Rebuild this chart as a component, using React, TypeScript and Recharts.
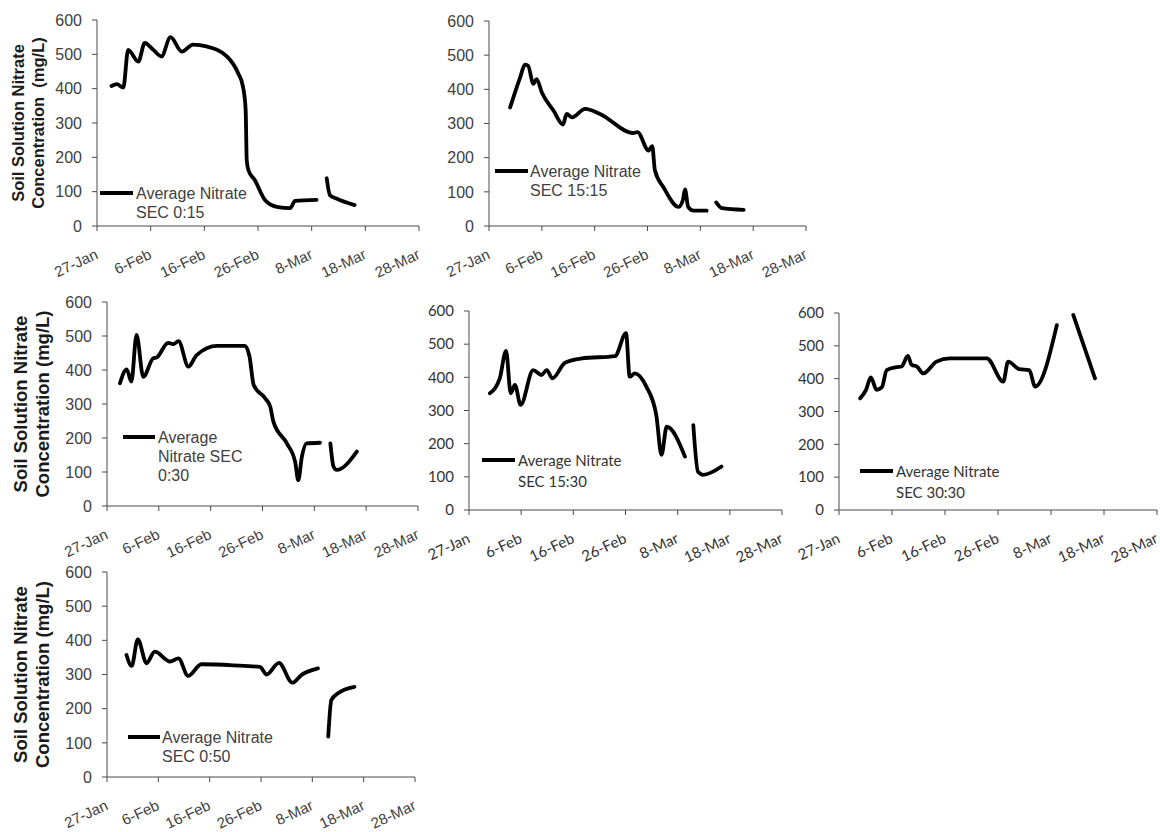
import React from 'react';
import { LineChart, Line, XAxis, YAxis, Legend } from 'recharts';

// x axis is days counted from 27-Jan
const tickDays = [0, 10, 20, 30, 40, 50, 60];
const tickLabels = ['27-Jan', '6-Feb', '16-Feb', '26-Feb', '8-Mar', '18-Mar', '28-Mar'];
const nitrateTicks = [0, 100, 200, 300, 400, 500, 600];

// null splits the record where sampling stopped
const days015 = [2.7, 3.7, 4.9, 5.8, 7.7, 8.9, 10.5, 12, 13.7, 15.8, 17.9, 20.4, 24.2, 26.3, 27.2, 27.7, 27.9, 28.2, 29.4, 31.3, 33.5, 36, 36.9, 40.9, 42, 42.8, 43.4, 44.6, 48];
const nitrate015 = [408, 413, 403, 513, 479, 533, 513, 494, 550, 508, 528, 523, 494, 445, 406, 338, 192, 163, 134, 76, 56, 52, 73, 76, null, 139, 90, 80, 61];

const days1515 = [4.0, 5.9, 6.8, 7.4, 8.4, 9.0, 10.0, 12.2, 14.0, 14.7, 15.7, 18.2, 21, 27.3, 28.1, 30.2, 30.9, 31.4, 33.0, 35.9, 36.7, 37.1, 37.7, 38.7, 41.2, 42, 43, 44.1, 48.2];
const nitrate1515 = [347, 435, 472, 469, 416, 430, 391, 338, 297, 328, 318, 343, 328, 272, 275, 221, 234, 163, 114, 56, 76, 107, 56, 45, 45, null, 69, 52, 47];

const days030 = [2.5, 3.8, 4.7, 5.7, 7.0, 8.9, 9.6, 11.8, 12.8, 13.8, 15.7, 17.3, 21.2, 26.6, 27.5, 28.3, 30.5, 31.5, 32.1, 34.7, 36.3, 36.9, 37.6, 38.5, 41.1, 42, 43.1, 43.7, 44.3, 48.2];
const nitrate030 = [361, 402, 366, 503, 380, 434, 437, 480, 476, 485, 410, 444, 471, 471, 439, 356, 317, 292, 248, 184, 130, 76, 145, 184, 186, null, 184, 116, 106, 160];

const days1530 = [4.0, 5.9, 7.1, 8.0, 8.8, 9.9, 12.3, 13.9, 14.9, 16.0, 18.4, 21.6, 28.0, 30.1, 30.8, 31.8, 34.0, 35.9, 36.9, 37.9, 41.4, 42.2, 43.0, 43.9, 44.9, 48.4];
const nitrate1530 = [352, 397, 480, 352, 377, 317, 422, 407, 422, 397, 444, 457, 464, 533, 402, 412, 372, 286, 166, 251, 161, null, 256, 115, 106, 131];

const days3030 = [4.0, 5.1, 6.0, 7.1, 8.1, 9.0, 10.9, 11.8, 13.0, 13.7, 14.7, 15.9, 18.4, 20.9, 27.9, 31.0, 31.9, 34.0, 35.9, 37.0, 41.1, 42.5, 44.2, 48.3];
const nitrate3030 = [340, 366, 404, 366, 374, 426, 435, 437, 469, 442, 437, 416, 452, 462, 462, 391, 452, 429, 426, 376, 563, null, 594, 401];

const days050 = [3.8, 4.8, 6.0, 7.7, 9.3, 12.3, 13.9, 15.8, 18.4, 24.6, 29.8, 31.1, 33.5, 36.1, 37.9, 41.1, 42, 43.1, 43.7, 45.0, 48.2];
const nitrate050 = [357, 325, 403, 333, 367, 338, 347, 296, 330, 327, 322, 300, 334, 276, 299, 318, null, 118, 225, 245, 264];

const ARIAL = "'Liberation Sans', Arial, sans-serif";
const CALIBRI = "Lato, 'Open Sans', sans-serif";

type Face = { family: string; yTick: number; xTick: number; legend: number; lineH: number; color: string };
const arialFace: Face = { family: ARIAL, yTick: 16, xTick: 15, legend: 16, lineH: 19, color: '#404040' };
const calibriFace: Face = { family: CALIBRI, yTick: 15, xTick: 15, legend: 15, lineH: 21, color: '#333' };

type Panel = {
  days: number[];
  values: (number | null)[];
  legend: string[];
  plot: { x: number; y: number; w: number; h: number };
  key: { x: number; y: number; len: number; gap: number };
  title?: { lines: string[]; offsets: number[]; size: number };
  face: Face;
};

const titleTight = ['Soil Solution Nitrate', 'Concentration  (mg/L)'];
const titleLines = ['Soil Solution Nitrate', 'Concentration (mg/L)'];

const panels: Panel[] = [
  {
    days: days015, values: nitrate015, legend: ['Average Nitrate', 'SEC 0:15'],
    plot: { x: 97, y: 20, w: 322, h: 206 }, key: { x: 100, y: 193, len: 33, gap: 3 },
    title: { lines: titleTight, offsets: [79, 59], size: 16.5 }, face: arialFace,
  },
  {
    days: days1515, values: nitrate1515, legend: ['Average Nitrate', 'SEC 15:15'],
    plot: { x: 489, y: 21, w: 317, h: 205 }, key: { x: 495, y: 171, len: 33, gap: 2 },
    face: arialFace,
  },
  {
    days: days030, values: nitrate030, legend: ['Average', 'Nitrate SEC', '0:30'],
    plot: { x: 107, y: 302, w: 311, h: 204 }, key: { x: 123, y: 437, len: 32, gap: 3 },
    title: { lines: titleLines, offsets: [87, 65], size: 18.5 }, face: arialFace,
  },
  {
    days: days1530, values: nitrate1530, legend: ['Average Nitrate', 'SEC 15:30'],
    plot: { x: 469, y: 311, w: 313, h: 199 }, key: { x: 482, y: 460, len: 33, gap: 3 },
    face: calibriFace,
  },
  {
    days: days3030, values: nitrate3030, legend: ['Average Nitrate', 'SEC 30:30'],
    plot: { x: 839, y: 313, w: 318, h: 197 }, key: { x: 860, y: 471, len: 33, gap: 3 },
    face: calibriFace,
  },
  {
    days: days050, values: nitrate050, legend: ['Average Nitrate', 'SEC 0:50'],
    plot: { x: 107, y: 572, w: 308, h: 205 }, key: { x: 128, y: 737, len: 32, gap: 2 },
    title: { lines: titleLines, offsets: [87, 65], size: 18.5 }, face: arialFace,
  },
];

const AXIS = '#4a4a4a';
const TOP = 12;
const BOTTOM = 62;
const RIGHT = 14;

const DateTick = (props: any) => {
  const { x, y, payload, face } = props;
  const label = tickLabels[tickDays.indexOf(payload.value)] ?? '';
  const ax = x + 2;
  const ay = y + 25;
  return (
    <text
      x={ax}
      y={ay}
      textAnchor="end"
      transform={`rotate(-25, ${ax}, ${ay})`}
      fill={face.color}
      fontSize={face.xTick}
      fontFamily={face.family}
    >
      {label}
    </text>
  );
};

function NitratePanel({ p }: { p: Panel }) {
  const yw = p.title ? 100 : 60;
  const left = p.plot.x - yw;
  const top = p.plot.y - TOP;
  const width = yw + p.plot.w + RIGHT;
  const height = TOP + p.plot.h + BOTTOM;
  const data = p.days.map((day, i) => ({ day, nitrate: p.values[i] }));
  const f = p.face;

  const title = p.title;
  const renderTitle = () => {
    if (!title) return null;
    const cy = TOP + p.plot.h / 2;
    return (
      <g>
        {title.lines.map((line, i) => {
          const cx = yw - title.offsets[i];
          return (
            <text
              key={line}
              x={cx}
              y={cy}
              transform={`rotate(-90, ${cx}, ${cy})`}
              textAnchor="middle"
              dominantBaseline="central"
              fontFamily={ARIAL}
              fontWeight="bold"
              fontSize={title.size}
              fill="#1a1a1a"
              style={{ whiteSpace: 'pre' }}
            >
              {line}
            </text>
          );
        })}
      </g>
    );
  };

  const renderKey = () => (
    <div style={{ display: 'flex', alignItems: 'flex-start', fontFamily: f.family, fontSize: f.legend, color: f.color }}>
      <div
        style={{
          width: p.key.len,
          height: 3.5,
          background: '#000',
          marginTop: f.lineH / 2 - 1.75,
          marginRight: p.key.gap,
          flex: 'none',
        }}
      />
      <div style={{ lineHeight: `${f.lineH}px`, whiteSpace: 'nowrap' }}>
        {p.legend.map((t) => (
          <div key={t}>{t}</div>
        ))}
      </div>
    </div>
  );

  return (
    <div style={{ position: 'absolute', left, top }}>
      <LineChart width={width} height={height} data={data} margin={{ top: TOP, right: RIGHT, bottom: 0, left: 0 }}>
        <XAxis
          type="number"
          dataKey="day"
          domain={[0, 60]}
          ticks={tickDays}
          interval={0}
          height={BOTTOM}
          tickSize={5}
          stroke={AXIS}
          tickLine={{ stroke: AXIS }}
          tick={<DateTick face={f} />}
        />
        <YAxis
          type="number"
          domain={[0, 600]}
          ticks={nitrateTicks}
          interval={0}
          width={yw}
          tickSize={5}
          tickMargin={10}
          stroke={AXIS}
          tickLine={{ stroke: AXIS }}
          tick={{ fill: f.color, fontSize: f.yTick, fontFamily: f.family }}
          label={title ? renderTitle : undefined}
        />
        <Legend
          layout="horizontal"
          verticalAlign="middle"
          align="center"
          wrapperStyle={{
            left: p.key.x - left,
            top: p.key.y - f.lineH / 2 - top,
            width: 220,
          }}
          content={renderKey}
        />
        <Line
          type="monotone"
          dataKey="nitrate"
          name="Average Nitrate"
          stroke="#000"
          strokeWidth={3.8}
          strokeLinecap="round"
          strokeLinejoin="round"
          dot={false}
          activeDot={false}
          connectNulls={false}
          isAnimationActive={false}
        />
      </LineChart>
    </div>
  );
}

export default function App() {
  return (
    <div style={{ position: 'absolute', left: 0, top: 0, width: 1160, height: 832, background: '#fff', overflow: 'hidden' }}>
      {panels.map((p, i) => (
        <NitratePanel key={i} p={p} />
      ))}
    </div>
  );
}
